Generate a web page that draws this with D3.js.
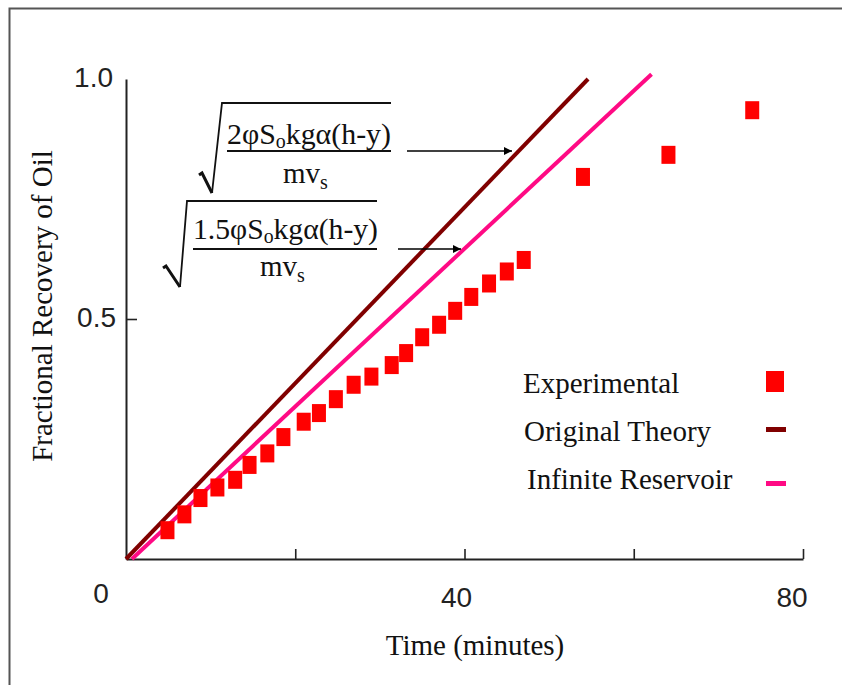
<!DOCTYPE html>
<html>
<head>
<meta charset="utf-8">
<script src="https://cdn.jsdelivr.net/npm/d3@7"></script>
<style>
  body { margin: 0; background: #fff; }
  svg { display: block; }
</style>
</head>
<body>
<div id="chart"></div>
<script>
// experimental points
var expTime = [4.9, 6.9, 8.8, 10.8, 12.9, 14.6, 16.7, 18.6, 21.0, 22.8, 24.8, 26.9, 29.0, 31.4, 33.1, 35.0, 37.0, 38.9, 40.8, 42.9, 45.0, 47.0, 54.0, 64.1, 74.0];
var expRecovery = [0.060, 0.093, 0.127, 0.149, 0.165, 0.196, 0.220, 0.254, 0.286, 0.304, 0.333, 0.363, 0.380, 0.404, 0.429, 0.462, 0.488, 0.517, 0.546, 0.574, 0.599, 0.623, 0.796, 0.842, 0.935];

// theory lines (straight, so two ends are enough)
var theoryTime = [0, 54.6];
var theoryRecovery = [0, 1.0];
var infiniteTime = [0.7, 62.1];
var infiniteRecovery = [0, 1.01];

var timeTicks = [20, 40, 60, 80];
var timeLabels = [0, 40, 80];
var recoveryTicks = [0.5];
var recoveryLabels = [0.5, 1.0];

var seriesNames = ["Experimental", "Original Theory", "Infinite Reservoir"];
var seriesColors = ["#ff0000", "#800000", "#ff0a84"];

var width = 842, height = 685;
var serif = "'Liberation Serif', 'Times New Roman', serif";
var sans = "'Liberation Sans', Arial, sans-serif";

var svg = d3.select("#chart").append("svg")
    .attr("width", width)
    .attr("height", height);

// frame of the original picture (cut at right and bottom)
svg.append("path")
    .attr("d", "M9.5," + height + "V8.5H" + width)
    .attr("fill", "none")
    .attr("stroke", "#555")
    .attr("stroke-width", 2);

var x = d3.scaleLinear().domain([0, 80]).range([126, 803]);
var y = d3.scaleLinear().domain([0, 1]).range([559, 79]);

// axes, ticks pointing inwards
var xAxis = svg.append("g")
    .attr("transform", "translate(0," + y(0) + ")")
    .call(d3.axisBottom(x).tickValues(timeTicks).tickSize(-10).tickSizeOuter(0).tickFormat(""));
var yAxis = svg.append("g")
    .attr("transform", "translate(" + x(0) + ",0)")
    .call(d3.axisLeft(y).tickValues(recoveryTicks).tickSize(-11).tickSizeOuter(0).tickFormat(""));
[xAxis, yAxis].forEach(function(g) {
  g.select(".domain").attr("stroke", "#222").attr("stroke-width", 2);
  g.selectAll(".tick line").attr("stroke", "#222").attr("stroke-width", 1.6);
});

// tick labels sit a bit off the ticks in the original
var xShift = {0: -25, 40: -8, 80: -11};
svg.selectAll(".xlab")
  .data(timeLabels)
  .enter().append("text")
    .attr("class", "xlab")
    .attr("x", function(d) { return x(d) + xShift[d]; })
    .attr("y", function(d) { return d == 0 ? 603 : 607; })
    .attr("text-anchor", "middle")
    .style("font-family", sans)
    .style("font-size", "28px")
    .attr("fill", "#222")
    .text(function(d) { return d; });

svg.selectAll(".ylab")
  .data(recoveryLabels)
  .enter().append("text")
    .attr("class", "ylab")
    .attr("x", function(d) { return d == 1 ? 113 : 116; })
    .attr("y", function(d) { return y(d) + 8; })
    .attr("text-anchor", "end")
    .style("font-family", sans)
    .style("font-size", "28px")
    .attr("fill", "#222")
    .text(function(d) { return d.toFixed(1); });

// axis titles
svg.append("text")
    .attr("x", 475)
    .attr("y", 655)
    .attr("text-anchor", "middle")
    .style("font-family", serif)
    .style("font-size", "29px")
    .attr("fill", "#111")
    .text("Time (minutes)");

svg.append("text")
    .attr("transform", "translate(52,306) rotate(-90)")
    .attr("text-anchor", "middle")
    .style("font-family", serif)
    .style("font-size", "29px")
    .attr("fill", "#111")
    .text("Fractional Recovery of Oil");

// theory lines
var line = d3.line()
    .x(function(d) { return x(d[0]); })
    .y(function(d) { return y(d[1]); });

svg.append("path")
    .datum(d3.zip(theoryTime, theoryRecovery))
    .attr("d", line)
    .attr("fill", "none")
    .attr("stroke", seriesColors[1])
    .attr("stroke-width", 4);

svg.append("path")
    .datum(d3.zip(infiniteTime, infiniteRecovery))
    .attr("d", line)
    .attr("fill", "none")
    .attr("stroke", seriesColors[2])
    .attr("stroke-width", 4);

// experimental squares
var sqW = 14, sqH = 18;
svg.selectAll(".pt")
  .data(d3.zip(expTime, expRecovery))
  .enter().append("rect")
    .attr("class", "pt")
    .attr("x", function(d) { return x(d[0]) - sqW / 2; })
    .attr("y", function(d) { return y(d[1]) - sqH / 2; })
    .attr("width", sqW)
    .attr("height", sqH)
    .attr("fill", seriesColors[0]);

// legend
var legend = svg.append("g");
var legY = [393, 441, 489];
var legX = [523, 524, 527];
legend.selectAll("text")
  .data(seriesNames)
  .enter().append("text")
    .attr("x", function(d, i) { return legX[i]; })
    .attr("y", function(d, i) { return legY[i]; })
    .style("font-family", serif)
    .style("font-size", "29px")
    .attr("fill", "#111")
    .text(function(d) { return d; });

legend.append("rect")
    .attr("x", 766).attr("y", 371)
    .attr("width", 18).attr("height", 21)
    .attr("fill", seriesColors[0]);
legend.append("rect")
    .attr("x", 766).attr("y", 427)
    .attr("width", 20).attr("height", 5)
    .attr("fill", seriesColors[1]);
legend.append("rect")
    .attr("x", 766).attr("y", 481)
    .attr("width", 20).attr("height", 5)
    .attr("fill", seriesColors[2]);

// formula annotations with arrows
svg.append("defs").append("marker")
    .attr("id", "arrow")
    .attr("viewBox", "0 0 10 10")
    .attr("refX", 10).attr("refY", 5)
    .attr("markerWidth", 12).attr("markerHeight", 8)
    .attr("markerUnits", "userSpaceOnUse")
    .attr("orient", "auto")
  .append("path")
    .attr("d", "M0,0L10,5L0,10z")
    .attr("fill", "#000");

function formula(f) {
  var g = svg.append("g");
  // radical sign: thick short down stroke, thin long up stroke, then overbar
  g.append("path")
    .attr("d", "M" + f.hook[0] + "," + f.hook[1] + "l3,-2L" + f.bottom[0] + "," + f.bottom[1])
    .attr("fill", "none")
    .attr("stroke", "#111")
    .attr("stroke-width", 3);
  g.append("path")
    .attr("d", "M" + f.bottom[0] + "," + f.bottom[1] +
               "L" + f.top[0] + "," + f.top[1] +
               "H" + f.barEnd)
    .attr("fill", "none")
    .attr("stroke", "#111")
    .attr("stroke-width", 1.8);
  // fraction bar
  g.append("line")
    .attr("x1", f.numX).attr("x2", f.barEnd)
    .attr("y1", f.fracY).attr("y2", f.fracY)
    .attr("stroke", "#111").attr("stroke-width", 1.8);
  var num = g.append("text")
    .attr("x", f.numX).attr("y", f.numY)
    .attr("textLength", f.numLen)
    .attr("lengthAdjust", "spacingAndGlyphs")
    .style("font-family", serif).style("font-size", "30px").attr("fill", "#111");
  num.append("tspan").text(f.coef + "\u03C6S");
  num.append("tspan").attr("dy", 4).style("font-size", "20px").text("o");
  num.append("tspan").attr("dy", -4).text("kg\u03B1(h-y)");
  var den = g.append("text")
    .attr("x", f.denX).attr("y", f.denY)
    .style("font-family", serif).style("font-size", "29px").attr("fill", "#111");
  den.append("tspan").text("mv");
  den.append("tspan").attr("dy", 6).style("font-size", "20px").text("s");
  // arrow to the line
  g.append("line")
    .attr("x1", f.arrow[0]).attr("x2", f.arrow[1])
    .attr("y1", f.fracY).attr("y2", f.fracY)
    .attr("stroke", "#000").attr("stroke-width", 1.5)
    .attr("marker-end", "url(#arrow)");
}

formula({coef: "2", hook: [199, 175], bottom: [212, 193], top: [222, 103], barEnd: 391,
         numX: 227, numY: 144, numLen: 164, fracY: 151, denX: 283, denY: 183, arrow: [407, 512]});
formula({coef: "1.5", hook: [163, 268], bottom: [180, 287], top: [187, 201], barEnd: 377,
         numX: 193, numY: 239, numLen: 185, fracY: 249, denX: 260, denY: 276, arrow: [398, 461]});
</script>
</body>
</html>
